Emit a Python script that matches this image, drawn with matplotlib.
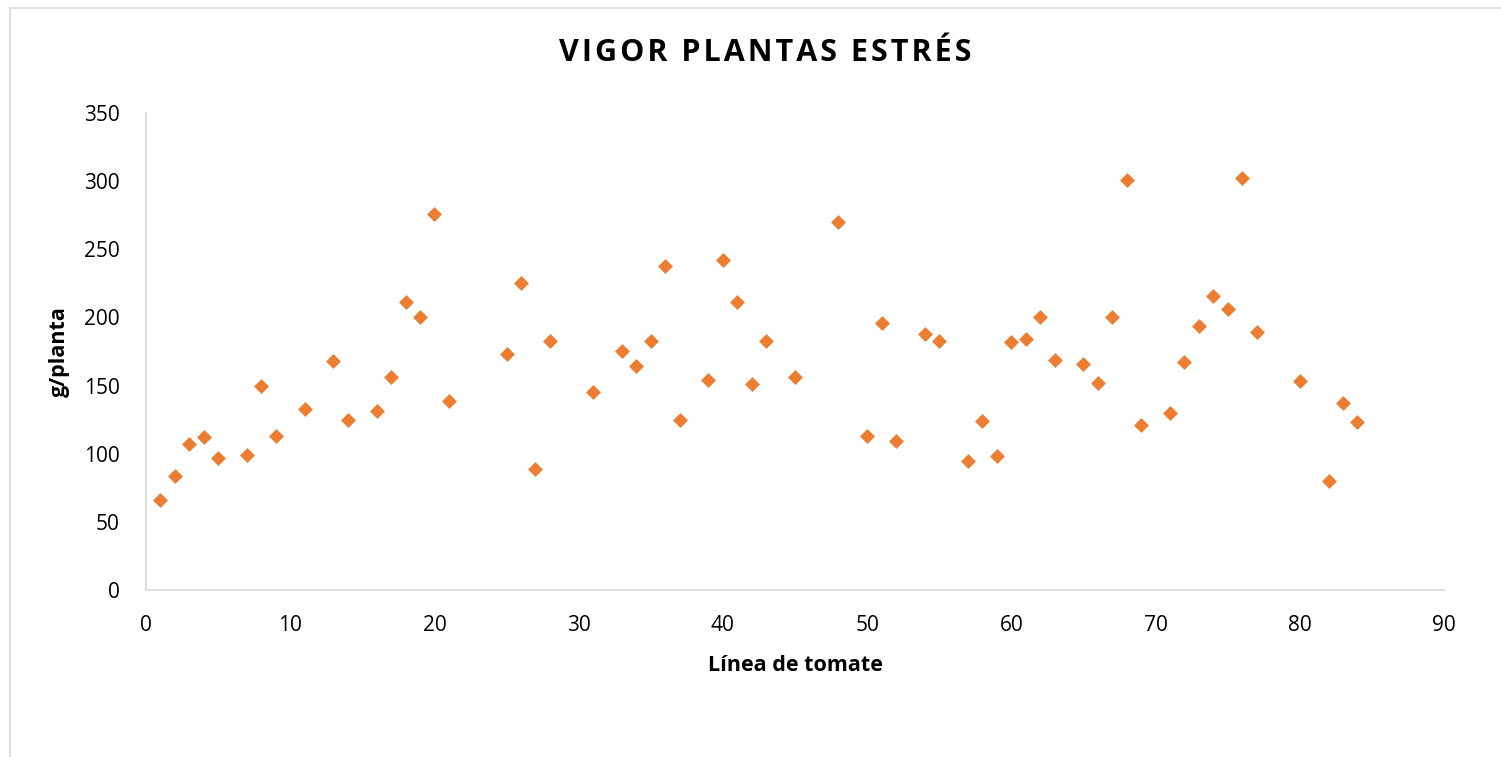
import matplotlib.pyplot as plt
from matplotlib.patches import Rectangle

# datos
linea = [1, 2, 3, 4, 5, 7, 8, 9, 11, 13, 14, 16, 17, 18, 19, 20, 21,
         25, 26, 27, 28, 31, 33, 34, 35, 36, 37, 39, 40, 41, 42, 43, 45,
         48, 50, 51, 52, 54, 55, 57, 58, 59, 60, 61, 62, 63, 65, 66, 67,
         68, 69, 71, 72, 73, 74, 75, 76, 77, 80, 82, 83, 84]
g_planta = [66, 84, 107, 112, 97, 99, 150, 113, 133, 168, 125, 131, 156, 211, 200, 276, 139,
            173, 225, 89, 183, 145, 175, 164, 183, 238, 125, 154, 242, 211, 151, 183, 156,
            270, 113, 196, 109, 188, 183, 95, 124, 98, 182, 184, 200, 169, 166, 152, 200,
            301, 121, 130, 167, 194, 216, 206, 302, 189, 153, 80, 137, 123]

xticks = list(range(0, 91, 10))
yticks = list(range(0, 351, 50))
titulo = 'VIGOR PLANTAS ESTRÉS'

plt.rcParams['font.family'] = ['Open Sans', 'DejaVu Sans']

fig = plt.figure(figsize=(15.01, 7.57), dpi=100)
ax = fig.add_axes([146 / 1501, 1 - 590 / 757, (1444 - 146) / 1501, (590 - 113) / 757])

ax.scatter(linea, g_planta, marker='D', s=7.6 ** 2, color='#ED7D31', linewidths=0, zorder=3)

ax.set_xlim(0, 90)
ax.set_ylim(0, 350)
ax.set_xticks(xticks)
ax.set_yticks(yticks)
ax.tick_params(length=0, labelsize=15, colors='#000000')
ax.tick_params(axis='x', pad=18)
ax.tick_params(axis='y', pad=19)

for s in ['top', 'right']:
    ax.spines[s].set_visible(False)
for s in ['left', 'bottom']:
    ax.spines[s].set_color('#d9d9d9')
    ax.spines[s].set_linewidth(1.2)

ax.set_xlabel('Línea de tomate', fontsize=15.5, fontweight='bold', labelpad=14)
ax.set_ylabel('g/planta', fontsize=15.5, fontweight='bold', labelpad=10)

# titulo con algo de espaciado entre letras
fig.text(765 / 1501, 1 - 53 / 757, '\u200a'.join(titulo),
         ha='center', va='center', fontsize=22, fontweight='bold')

# borde del area del grafico
fig.patches.append(Rectangle((10 / 1501, -0.01), 1.1, 1 - 8 / 757 + 0.01,
                             transform=fig.transFigure, fill=False,
                             edgecolor='#d9d9d9', linewidth=1.2))

fig.savefig('out.png', dpi=100)
